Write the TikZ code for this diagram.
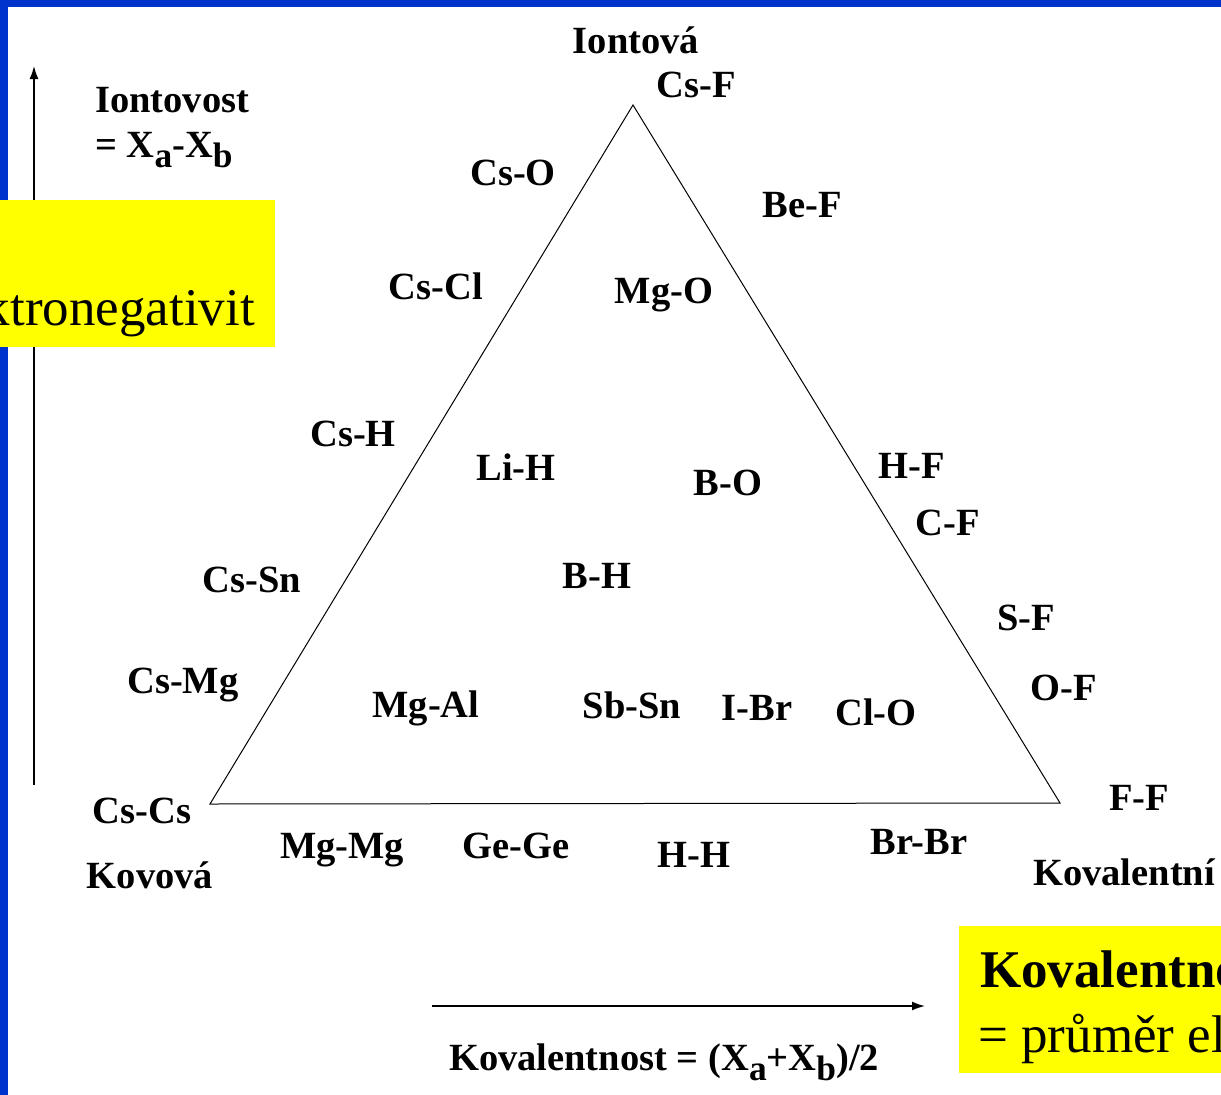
\documentclass[tikz,border=0pt]{standalone}
\usepackage{fontspec}
\setmainfont{Liberation Serif}
\usetikzlibrary{arrows.meta,positioning}

\definecolor{slideblue}{RGB}{0,51,204}
\definecolor{notebox}{RGB}{255,255,0}

\newcommand{\sbx}[1]{\raisebox{-0.27em}{\scalebox{0.92}{#1}}}

\tikzset{
	bond/.style={font=\fontsize{38.5}{40}\selectfont\bfseries, inner sep=0pt, anchor=base},
	axislabel/.style={bond, anchor=base west},
	notetext/.style={font=\fontsize{53}{58}\selectfont, inner sep=0pt, anchor=base west},
	axis/.style={line width=1.5pt, -{Latex[length=13pt,width=9pt]}},
}

\begin{document}
\begin{tikzpicture}[x=1pt,y=-1pt]
	\useasboundingbox (0,0) rectangle (1221,1095);
	\clip (0,0) rectangle (1221,1095);
	\fill[slideblue] (0,0) rectangle (8,1095);
	\fill[slideblue] (0,0) rectangle (1221,7);

	\coordinate (top) at (633,105);
	\coordinate (metal) at (210,804);
	\coordinate (coval) at (1060,803);
	\draw[line width=1pt] (top) -- (metal) -- (coval) -- cycle;

	\coordinate (ionlow) at (34,785);
	\coordinate (ionhigh) at (34,66);
	\draw[axis] (ionlow) -- (ionhigh);
	\coordinate (covlow) at (432,1006);
	\coordinate (covhigh) at (925,1006);
	\draw[axis] (covlow) -- (covhigh);

	\node[axislabel] (iontovost) at (95,112) {Iontovost};
	\node[axislabel] (ionformula) at (95,157) {= X\sbx{a}-X\sbx{b}};
	\node[bond] (kovformula) at (664,1070) {Kovalentnost = (X\sbx{a}+X\sbx{b})/2};

	\node[bond] (iontova) at (636,53) {Iontová};
	\node[bond] (kovova) at (150,888) {Kovová};
	\node[axislabel] (kovalentni) at (1033,885) {Kovalentní};

	\node[bond] (csf) at (696,97) {Cs-F};
	\node[bond] (cso) at (513,185) {Cs-O};
	\node[bond] (bef) at (802,217) {Be-F};
	\node[bond] (cscl) at (436,299) {Cs-Cl};
	\node[bond] (mgo) at (664,303) {Mg-O};
	\node[bond] (csh) at (353,446) {Cs-H};
	\node[bond] (lih) at (516,480) {Li-H};
	\node[bond] (bo) at (728,495) {B-O};
	\node[bond] (hf) at (912,478) {H-F};
	\node[bond] (cf) at (948,535) {C-F};
	\node[bond] (cssn) at (252,592) {Cs-Sn};
	\node[bond] (bh) at (597,588) {B-H};
	\node[bond] (sf) at (1026,630) {S-F};
	\node[bond] (csmg) at (183,693) {Cs-Mg};
	\node[bond] (of) at (1064,700) {O-F};
	\node[bond] (mgal) at (426,717) {Mg-Al};
	\node[bond] (sbsn) at (632,718) {Sb-Sn};
	\node[bond] (ibr) at (757,720) {I-Br};
	\node[bond] (clo) at (876,725) {Cl-O};
	\node[bond] (ff) at (1139,810) {F-F};
	\node[bond] (cscs) at (142,823) {Cs-Cs};
	\node[bond] (mgmg) at (342,858) {Mg-Mg};
	\node[bond] (gege) at (516,858) {Ge-Ge};
	\node[bond] (hh) at (694,867) {H-H};
	\node[bond] (brbr) at (919,854) {Br-Br};

	\fill[notebox] (0,200) rectangle (275,347);
	\node[notetext, anchor=base east] (rozdil) at (255,325) {ktronegativit};
	\fill[notebox] (959,926) rectangle (1221,1073);
	\node[notetext, font=\fontsize{53}{58}\selectfont\bfseries] (kovtitle) at (980,987) {Kovalentno};
	\node[notetext] (prumer) at (978,1052) {= průměr el};
\end{tikzpicture}
\end{document}
